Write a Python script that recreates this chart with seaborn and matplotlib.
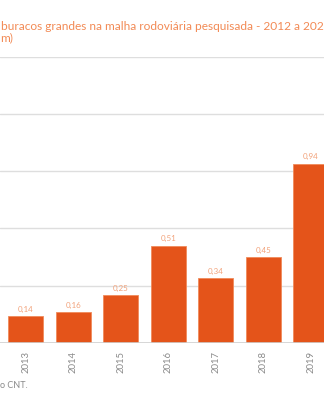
import matplotlib
matplotlib.use("Agg")
import matplotlib.pyplot as plt
import seaborn as sns
import pandas as pd

years = ["2013", "2014", "2015", "2016", "2017", "2018", "2019"]
values = [0.14, 0.16, 0.25, 0.51, 0.34, 0.45, 0.94]
yticks = [0.3, 0.6, 0.9, 1.2, 1.5]

BAR = "#E4541A"
LABEL = "#F2A27A"
TITLE = "#F28A55"
GREY = "#8a8a8a"

sns.set_theme(style="white")
plt.rcParams['font.family'] = ['Lato', 'DejaVu Sans']

fig = plt.figure(figsize=(3.24, 4.0), dpi=100)
ax = fig.add_axes([0, 57.3 / 400, 1, (342.7 - 57.0) / 400])

df = pd.DataFrame({"year": years, "value": values})
sns.barplot(data=df, x="year", y="value", color=BAR, width=0.73,
            edgecolor="#F08A5A", linewidth=0.6, saturation=1, ax=ax)

ax.set_xlim(-0.543, 6.28)
ax.set_ylim(0, 1.5)
for t in yticks:
    ax.axhline(t, color="#dedede", lw=1.0, zorder=0)
ax.axhline(0, color="#cfcfcf", lw=1.2, zorder=3)

for i, v in enumerate(values):
    ax.text(i, v + 0.018, f"{v:.2f}".replace(".", ","), ha="center", va="bottom",
            fontsize=5.8, color=LABEL)

ax.set_yticks([])
ax.set_xticks(range(len(years)))
ax.set_xticklabels(years, rotation=90, fontsize=6.8, color=GREY)
ax.tick_params(axis="x", length=0, pad=6)
ax.set_xlabel("")
ax.set_ylabel("")
for s in ax.spines.values():
    s.set_visible(False)
ax.patch.set_alpha(0)

fig.text(0.003, 1 - 26.7 / 400, "buracos grandes na malha rodoviária pesquisada - 2012 a 2021",
         fontsize=8.6, color=TITLE, ha="left", va="center")
fig.text(0.0, 1 - 37.5 / 400, "m)", fontsize=8.6, color=TITLE, ha="left", va="center")
fig.text(0.0, 1 - 386 / 400, "o CNT.", fontsize=6.5, color=GREY, ha="left", va="center")

fig.savefig("out.png", dpi=100)
